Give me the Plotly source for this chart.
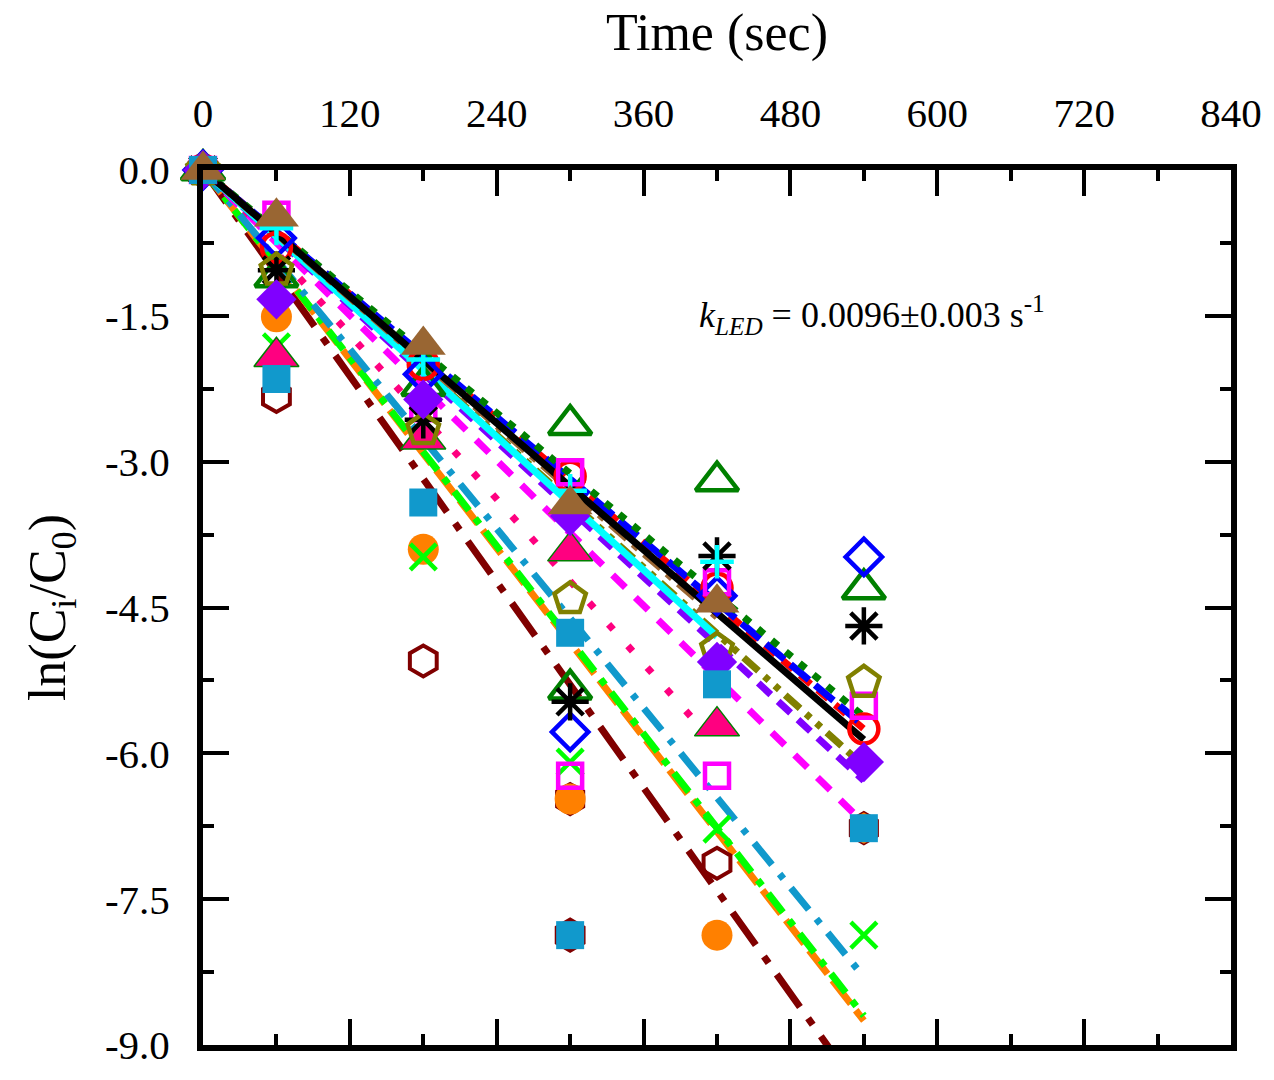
import plotly.graph_objects as go

# sampling times (s)
times = [0, 60, 180, 300, 420, 540]

# ln(Ci/C0), None = not visible
black_star = [0, -1.03, -2.57, -5.47, -3.97, -4.69]
red_circle = [0, -0.80, -2.00, -3.15, -4.30, -5.75]
blue_diamond = [0, -0.70, -2.10, -5.78, -4.38, -3.98]
green_tri = [0, -1.10, -2.22, -2.62, -3.20, -4.31]
cyan_plus = [0, -0.60, -1.95, -3.30, -4.03, None]
brown_tri = [0, -0.48, -1.80, -3.44, -4.45, None]
olive_pent = [0, -1.03, -2.67, -4.41, -4.93, -5.27]
purple_diamond = [0, -1.33, -2.36, -3.56, -5.06, -6.09]
magenta_sq = [0, -0.46, -2.45, -3.11, -4.24, -5.51]
pink_tri = [0, -1.92, -2.77, -3.92, -5.72, None]
steel_sq = [0, -2.15, -3.42, -4.76, -5.29, -6.77]
orange_circle = [0, -1.51, -3.90, -6.47, -7.87, None]
lime_x = [0, -1.82, -3.98, -6.09, -6.78, -7.87]
maroon_hex = [0, -2.33, -5.05, -7.87, -7.13, None]

# a few extra points
green_tri2_t, green_tri2 = [300], [-5.34]
magenta_sq2_t, magenta_sq2 = [300, 420], [-6.23, -6.23]
steel_sq2_t, steel_sq2 = [300], [-7.87]
orange_hex_t, orange_hex = [300, 540], [-6.47, -6.77]

# end points of the fitted lines (start at 0, 0)
fit_end = {
    "pink": (400, -5.64),
    "maroon": (540, -9.53),
    "orange": (540, -8.75),
    "lime": (540, -8.70),
    "steel": (540, -8.30),
    "magenta": (540, -6.72),
    "purple": (540, -6.28),
    "olive": (540, -6.13),
    "red": (540, -5.75),
    "blue": (540, -5.72),
    "green": (540, -5.62),
    "cyan": (420, -4.80),
    "brown": (420, -4.60),
    "black": (540, -5.86),
}

x_ticks = [0, 120, 240, 360, 480, 600, 720, 840]
y_ticks = [0, -1.5, -3.0, -4.5, -6.0, -7.5, -9.0]
y_ticktext = ["0.0", "-1.5", "-3.0", "-4.5", "-6.0", "-7.5", "-9.0"]

colors = {
    "black": "#000000", "red": "#FF0000", "blue": "#0000FF", "green": "#008000",
    "cyan": "#00FFFF", "brown": "#996633", "olive": "#808000", "purple": "#8000FF",
    "magenta": "#FF00FF", "pink": "#FF0080", "steel": "#1199CC", "orange": "#FF8000",
    "lime": "#00FF00", "maroon": "#800000",
}
dashes = {
    "pink": "7px,22px",
    "maroon": "40px,14px,8px,14px",
    "orange": "30px,8px",
    "lime": "24px,10px,7px,10px",
    "steel": "28px,12px,6px,12px",
    "magenta": "18px,14px",
    "purple": "17px,10px",
    "olive": "20px,8px,6px,8px,6px,8px",
    "red": "14px,9px",
    "blue": "24px,8px",
    "green": "8px,10px",
    "cyan": "solid",
    "brown": "22px,8px,7px,8px",
    "black": "solid",
}

fig = go.Figure()

# fitted lines
for name, (t_end, y_end) in fit_end.items():
    fig.add_trace(go.Scatter(
        x=[0, t_end], y=[0, y_end], mode="lines",
        line=dict(color=colors[name], width=7, dash=dashes[name]),
        showlegend=False, hoverinfo="skip"))


def pts(x, y, symbol, color, size, lw=4, lc=None):
    fig.add_trace(go.Scatter(
        x=x, y=y, mode="markers", showlegend=False, cliponaxis=False,
        marker=dict(symbol=symbol, size=size, color=color,
                    line=dict(width=lw, color=lc or color))))


# markers, bottom to top
pts(times, maroon_hex, "hexagon-open", colors["maroon"], 31)
pts(orange_hex_t, orange_hex, "hexagon", colors["orange"], 33, lw=1.5, lc=colors["maroon"])
pts(times, orange_circle, "circle", colors["orange"], 31, lw=0)
pts(times, lime_x, "x-thin-open", colors["lime"], 26, lw=4.5)
pts(times, green_tri, "triangle-up-open", colors["green"], 37, lw=4.5)
pts(green_tri2_t, green_tri2, "triangle-up-open", colors["green"], 37, lw=4.5)
pts(times, pink_tri, "triangle-up", colors["pink"], 39, lw=1.5, lc=colors["green"])
pts(times, red_circle, "circle-open", colors["red"], 29, lw=4.5)
pts(times, blue_diamond, "diamond-open", colors["blue"], 28, lw=4.5)
pts(times, magenta_sq, "square-open", colors["magenta"], 24, lw=4.5)
pts(magenta_sq2_t, magenta_sq2, "square-open", colors["magenta"], 24, lw=4.5)
pts(times, black_star, "asterisk-open", colors["black"], 31, lw=4.5)
pts(times, cyan_plus, "cross-thin-open", colors["cyan"], 24, lw=4.5)
pts(times, olive_pent, "pentagon-open", colors["olive"], 33, lw=4.5)
pts(times, purple_diamond, "diamond", colors["purple"], 31, lw=0)
pts(times, steel_sq, "square", colors["steel"], 28, lw=0)
pts(steel_sq2_t, steel_sq2, "square", colors["steel"], 28, lw=0)
pts(times, brown_tri, "triangle-up", colors["brown"], 39, lw=0)

fig.add_annotation(
    x=547, y=-1.49, xref="x", yref="y", showarrow=False,
    text="<i>k</i><sub><i>LED</i></sub> = 0.0096±0.003 s<sup>-1</sup>",
    font=dict(size=36, color="black", family="Liberation Serif"))

axis_common = dict(
    showline=True, linewidth=6, linecolor="black", mirror="allticks",
    ticks="inside", ticklen=26, tickwidth=4, tickcolor="black",
    showgrid=False, zeroline=False,
    tickfont=dict(size=41, color="black", family="Liberation Serif"),
)

fig.update_xaxes(
    **axis_common, side="top", range=[0, 840],
    tickvals=x_ticks, ticklabelstandoff=21,
    minor=dict(dtick=60, ticks="inside", ticklen=11, tickwidth=4, tickcolor="black"),
    title=dict(text="Time (sec)", standoff=24,
               font=dict(size=52, color="black", family="Liberation Serif")))
fig.update_yaxes(
    **axis_common, range=[-9, 0],
    tickvals=y_ticks, ticktext=y_ticktext, ticklabelstandoff=19,
    minor=dict(dtick=0.75, ticks="inside", ticklen=11, tickwidth=4, tickcolor="black"),
    title=dict(text="ln(C<sub>i</sub>/C<sub>0</sub>)", standoff=25,
               font=dict(size=52, color="black", family="Liberation Serif")))

fig.update_layout(
    width=1274, height=1080,
    margin=dict(l=203, r=42, t=170, b=33),
    plot_bgcolor="white", paper_bgcolor="white",
    font=dict(family="Liberation Serif", color="black"),
)

# drop the default 8px page margin so the figure fills the window exactly
fig.write_html("out.html", config={"displayModeBar": False},
               post_script="document.body.style.margin = '0';")
